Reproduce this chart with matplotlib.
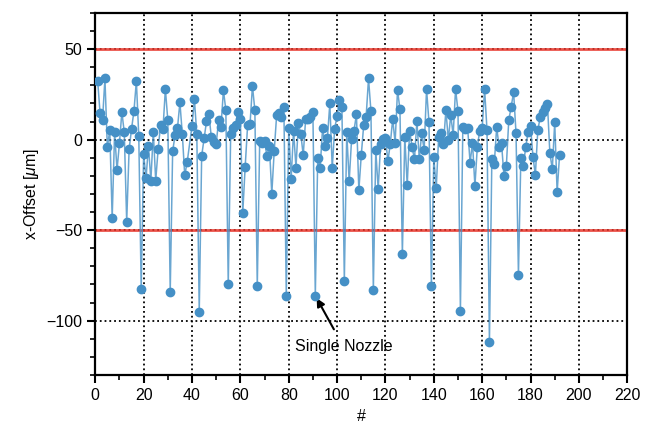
import matplotlib
matplotlib.use("Agg")
import matplotlib.pyplot as plt
from matplotlib.ticker import MultipleLocator

plt.rcParams['font.family'] = ['Liberation Sans', 'DejaVu Sans']
plt.rcParams['mathtext.fontset'] = 'custom'
plt.rcParams['mathtext.it'] = 'Liberation Sans:italic'
plt.rcParams['mathtext.rm'] = 'Liberation Sans'

nozzle = list(range(1, 39)) + list(range(40, 193))
offset = [
    32.4, 14.5, 10.8, 33.8, -4.2, 5.3, -43.4, 4.0, -16.7, -2.0,
    15.3, 4.0, -45.4, -5.3, 5.9, 15.8, 32.4, 2.0, -82.5, -7.9,
    -21.3, -3.5, -22.6, 4.2, -22.6, -5.3, 8.1, 5.9, 27.9, 10.8,
    -84.0, -6.4, 2.4, 6.3, 20.6, 3.1, -19.7, -12.5,
    7.5, 22.2, 2.9, -95.0, -9.0, 0.7, 10.1, 14.0, 1.3, -1.3,
    -2.6, 10.7, 7.2, 27.3, 16.4, -80.0, 3.1, 6.3, 8.1, 15.3,
    11.4, -40.3, -14.9, 7.9, 8.5, 29.6, 16.4, -81.0, -0.7, -1.8,
    -0.9, -9.2, -3.3, -30.0, -6.4, 13.4, 14.5, 12.3, 18.2, -86.2,
    6.3, -21.7, 5.0, -15.4, 9.0, 3.1, -8.6, 11.4, 11.4, 12.7,
    15.3, -86.2, -9.9, -15.6, 6.3, -3.5, 0.9, 20.0, -15.6, 6.1,
    13.0, 21.9, 18.0, -78.0, 4.0, -23.0, 0.2, 5.0, 14.0, -28.0,
    -8.6, 7.9, 12.3, 33.8, 15.8, -83.0, -5.9, -27.2, -2.6, 0.4,
    1.1, -11.9, -2.4, 11.4, -1.7, 27.4, 16.7, -63.2, 1.7, -25.2,
    4.8, -4.0, -10.8, 10.2, -10.5, 3.5, -5.7, 27.9, 9.6, -80.7,
    -9.7, -26.8, 1.3, 3.5, -2.4, 16.4, -0.2, 13.6, 2.6, 27.9,
    15.8, -94.5, 6.8, 5.9, 6.3, -12.7, -1.7, -25.6, -3.9, 5.0,
    6.3, 27.9, 5.3, -112.0, -10.7, -13.4, 6.8, -3.9, -2.0, -19.9,
    -14.5, 10.8, 18.2, 26.3, 3.5, -74.6, -9.9, -14.5, -4.2, 4.4,
    7.5, -9.4, -19.5, 5.3, 12.3, 15.4, 17.6, 19.5, -7.5, -16.2,
    9.6, -29.0, -8.5,
]
limits = [50, -50]

fig = plt.figure(figsize=(6.48, 4.32), dpi=100)
ax = fig.add_axes([0.147, 0.132, 0.821, 0.838])

blue = '#4590c6'
ax.plot(nozzle, offset, '-', color=blue, lw=1.1, alpha=0.8, zorder=3)
ax.plot(nozzle, offset, 'o', color=blue, ms=6, zorder=4)
for lim in limits:
    ax.axhline(lim, color='#e8352a', lw=2.0, alpha=0.85, zorder=2)

ax.set_xlim(0, 220)
ax.set_ylim(-130, 70)
ax.xaxis.set_major_locator(MultipleLocator(20))
ax.xaxis.set_minor_locator(MultipleLocator(10))
ax.yaxis.set_major_locator(MultipleLocator(50))
ax.yaxis.set_minor_locator(MultipleLocator(10))
ax.grid(True, which='major', color='black', linestyle=':', linewidth=1.3, zorder=1)
ax.set_axisbelow(True)

for s in ax.spines.values():
    s.set_linewidth(1.6)
ax.tick_params(which='major', direction='out', length=6, width=1.5, labelsize=11.5, top=False, right=False)
ax.tick_params(which='minor', direction='out', length=3.5, width=1.2, top=False, right=False)

ax.set_xlabel('#', fontsize=11.5)
ax.set_ylabel(r'x-Offset [$\mu$m]', fontsize=11.5)

ax.annotate('Single Nozzle', xy=(91, -86.2), xytext=(102.7, -114.5),
            ha='center', va='center', fontsize=11.5,
            arrowprops=dict(arrowstyle='-|>', color='black', lw=1.5,
                            shrinkA=6, shrinkB=2, mutation_scale=12))

fig.savefig('out.png', dpi=100)
